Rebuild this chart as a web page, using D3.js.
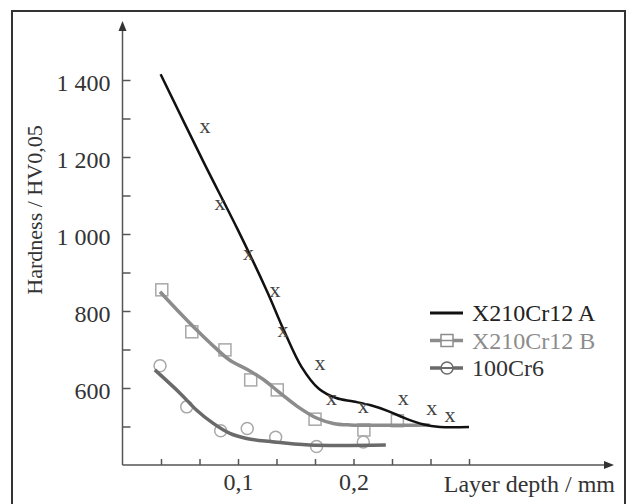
<!DOCTYPE html>
<html>
<head>
<meta charset="utf-8">
<script src="https://cdn.jsdelivr.net/npm/d3@7"></script>
<style>
  body { margin: 0; background: #fff; }
  svg text { font-family: "Liberation Serif", "Times New Roman", serif; }
</style>
</head>
<body>
<div id="chart"></div>
<script>
// fitted curves (depth in mm, hardness HV0,05)
var lineA = [[0.033,1415],[0.07,1188],[0.1,1010],[0.125,852],[0.14,748],[0.155,655],[0.17,598],[0.185,574],[0.2,565],[0.215,555],[0.23,540],[0.245,521],[0.26,506],[0.275,499],[0.3,499]];
var lineB = [[0.0325,850],[0.05,794],[0.064,751],[0.079,708],[0.093,672],[0.108,648],[0.122,622],[0.136,588],[0.151,553],[0.168,522],[0.1825,508],[0.197,504],[0.266,504]];
var lineC = [[0.028,647],[0.05,586],[0.064,543],[0.0786,508],[0.093,482],[0.1075,469],[0.128,461],[0.162,452],[0.228,452]];

// measured points
var pointsA = [[0.0714,1275],[0.0844,1075],[0.109,945],[0.132,850],[0.139,746],[0.171,660],[0.181,569],[0.2085,547],[0.243,569],[0.2677,543],[0.2835,525]];
var pointsB = [[0.034,855],[0.06,746],[0.0887,699],[0.111,621],[0.134,595],[0.1667,519],[0.209,491],[0.238,515]];
var pointsC = [[0.0325,658],[0.0556,551],[0.085,489],[0.108,495],[0.1326,472],[0.168,448],[0.2085,460]];

var xTicks = [1,2,3,4,5,6,7,8,9].map(function(i){ return i/30; });
var yTicks = [500,600,700,800,900,1000,1100,1200,1300,1400];
var legendNames = ["X210Cr12 A", "X210Cr12 B", "100Cr6"];

var width = 633, height = 504;

var svg = d3.select("#chart")
  .append("svg")
  .attr("width", width)
  .attr("height", height);

// frame
svg.append("rect")
  .attr("x", 12).attr("y", 11)
  .attr("width", 613).attr("height", 510)
  .attr("fill", "none")
  .attr("stroke", "#333")
  .attr("stroke-width", 2);

var x = d3.scaleLinear().domain([0, 0.3]).range([122.5, 469]);
var y = d3.scaleLinear().domain([400, 1400]).range([465, 80]);

var axisColor = "#555";

// y axis
var yAxis = svg.append("g")
  .attr("transform", "translate(" + x(0) + ",0)")
  .call(d3.axisLeft(y)
    .tickValues(yTicks)
    .tickSize(-8)
    .tickPadding(12)
    .tickFormat(function(d){
      if (d % 200 != 0) return "";
      return d >= 1000 ? Math.floor(d/1000) + " " + d3.format("03d")(d % 1000) : d;
    }));
yAxis.select(".domain").remove();
yAxis.selectAll("line").attr("stroke", axisColor).attr("stroke-width", 1.5);
yAxis.selectAll("text")
  .style("font-size", "24px")
  .attr("fill", "#333")
  .attr("dy", "0.42em");

// x axis
var xAxis = svg.append("g")
  .attr("transform", "translate(0," + y(400) + ")")
  .call(d3.axisBottom(x)
    .tickValues(xTicks)
    .tickSize(-6)
    .tickPadding(8)
    .tickFormat(function(d){
      if (Math.abs(d - 0.1) < 1e-6) return "0,1";
      if (Math.abs(d - 0.2) < 1e-6) return "0,2";
      return "";
    }));
xAxis.select(".domain").remove();
xAxis.selectAll("line").attr("stroke", axisColor).attr("stroke-width", 1.5);
xAxis.selectAll("text")
  .style("font-size", "24px")
  .attr("fill", "#333");

// axis lines with arrows
svg.append("line")
  .attr("x1", x(0)).attr("y1", y(400))
  .attr("x2", x(0)).attr("y2", 28)
  .attr("stroke", axisColor).attr("stroke-width", 1.5);
svg.append("path")
  .attr("d", "M" + x(0) + ",21 L" + (x(0)-4) + ",31 L" + (x(0)+4) + ",31 Z")
  .attr("fill", "#333");

svg.append("line")
  .attr("x1", x(0)).attr("y1", y(400))
  .attr("x2", 607).attr("y2", y(400))
  .attr("stroke", axisColor).attr("stroke-width", 1.5);
svg.append("path")
  .attr("d", "M614," + y(400) + " L604," + (y(400)-4) + " L604," + (y(400)+4) + " Z")
  .attr("fill", "#333");

// axis titles
svg.append("text")
  .attr("transform", "translate(42,210) rotate(-90)")
  .attr("text-anchor", "middle")
  .style("font-size", "22px")
  .attr("fill", "#333")
  .text("Hardness / HV0,05");

svg.append("text")
  .attr("x", 615).attr("y", 492)
  .attr("text-anchor", "end")
  .style("font-size", "24px")
  .attr("fill", "#333")
  .text("Layer depth / mm");

var line = d3.line()
  .x(function(d){ return x(d[0]); })
  .y(function(d){ return y(d[1]); })
  .curve(d3.curveCatmullRom.alpha(0.5));

var colA = "#111", colB = "#8c8c8c", colC = "#6a6a6a", markCol = "#a8a8a8";

// markers first (under lines)
svg.append("g").selectAll("rect")
  .data(pointsB)
  .enter().append("rect")
  .attr("x", function(d){ return x(d[0]) - 6; })
  .attr("y", function(d){ return y(d[1]) - 6; })
  .attr("width", 12).attr("height", 12)
  .attr("fill", "none")
  .attr("stroke", markCol)
  .attr("stroke-width", 1.5);

svg.append("g").selectAll("circle")
  .data(pointsC)
  .enter().append("circle")
  .attr("cx", function(d){ return x(d[0]); })
  .attr("cy", function(d){ return y(d[1]); })
  .attr("r", 6)
  .attr("fill", "none")
  .attr("stroke", markCol)
  .attr("stroke-width", 1.5);

svg.append("path").datum(lineC)
  .attr("d", line).attr("fill", "none")
  .attr("stroke", colC).attr("stroke-width", 3.5);
svg.append("path").datum(lineB)
  .attr("d", line).attr("fill", "none")
  .attr("stroke", colB).attr("stroke-width", 3.5);
svg.append("path").datum(lineA)
  .attr("d", line).attr("fill", "none")
  .attr("stroke", colA).attr("stroke-width", 2.5);

svg.append("g").selectAll("text")
  .data(pointsA)
  .enter().append("text")
  .attr("x", function(d){ return x(d[0]); })
  .attr("y", function(d){ return y(d[1]); })
  .attr("dy", "0.22em")
  .attr("text-anchor", "middle")
  .style("font-size", "22px")
  .attr("fill", "#444")
  .text("x");

// legend
var legend = svg.append("g").attr("transform", "translate(430,313)");
var legendCols = [colA, colB, colC];
var legendText = ["#222", "#8c8c8c", "#333"];
legendNames.forEach(function(name, i){
  var g = legend.append("g").attr("transform", "translate(0," + (i*27.5) + ")");
  g.append("line")
    .attr("x1", 0).attr("x2", 33)
    .attr("stroke", legendCols[i])
    .attr("stroke-width", i == 0 ? 3 : 3.5);
  if (i == 1) {
    g.append("rect")
      .attr("x", 11).attr("y", -6).attr("width", 12).attr("height", 12)
      .attr("fill", "#fff").attr("stroke", colB).attr("stroke-width", 1.5);
    g.append("line").attr("x1", 11).attr("x2", 23)
      .attr("stroke", colB).attr("stroke-width", 1.5);
  }
  if (i == 2) {
    g.append("circle")
      .attr("cx", 17).attr("r", 6)
      .attr("fill", "#fff").attr("stroke", colC).attr("stroke-width", 1.5);
    g.append("line").attr("x1", 11).attr("x2", 23)
      .attr("stroke", colC).attr("stroke-width", 2);
  }
  g.append("text")
    .attr("x", 42).attr("dy", "0.35em")
    .style("font-size", "24px")
    .attr("fill", legendText[i])
    .text(name);
});
</script>
</body>
</html>
